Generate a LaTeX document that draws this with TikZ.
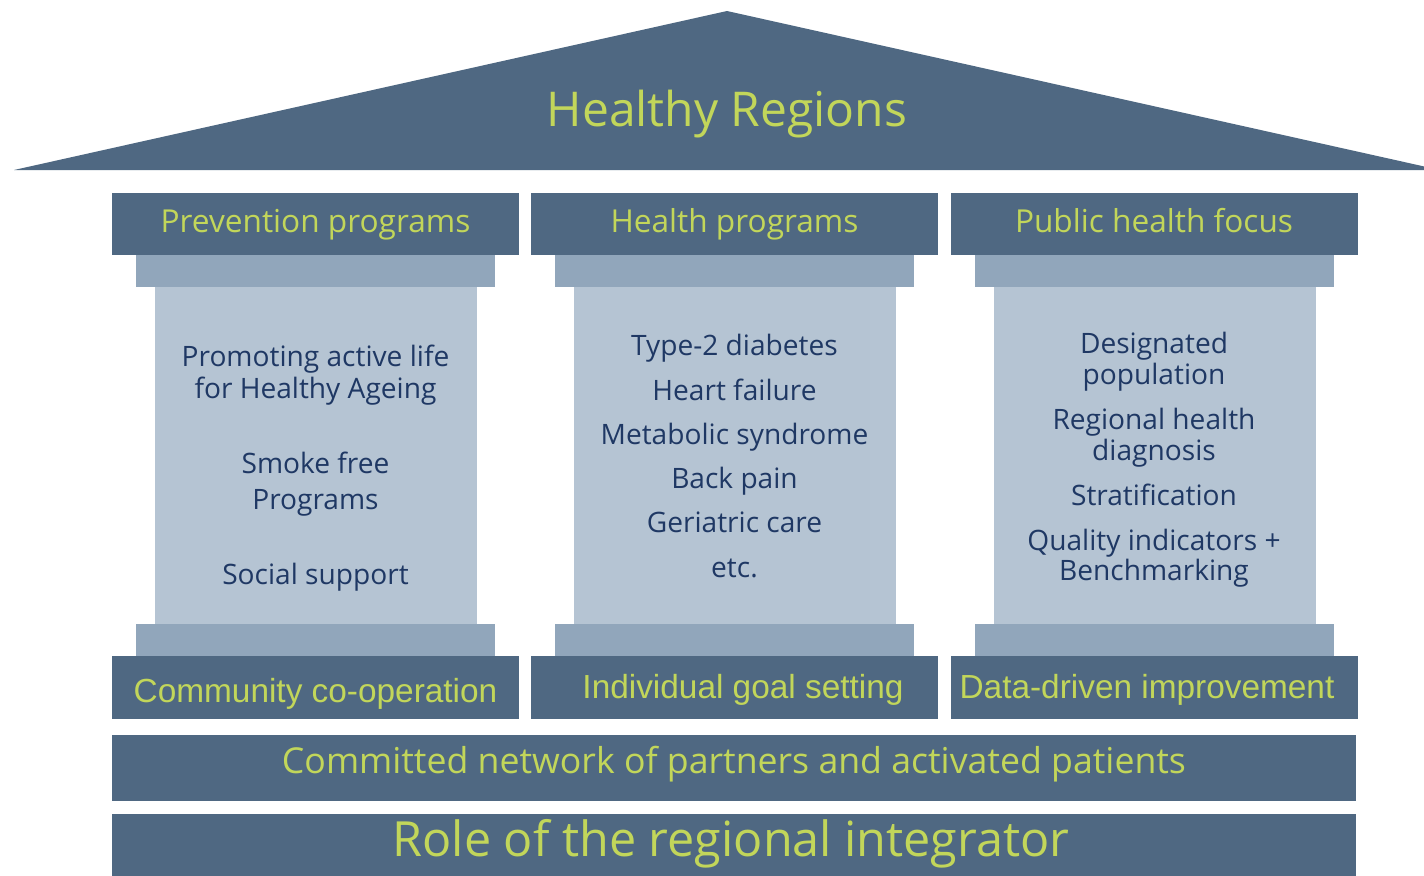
\documentclass[tikz,border=0pt]{standalone}
\usepackage{fontspec}
\setmainfont{Open Sans}
\newfontfamily\arialish{Liberation Sans}
\definecolor{slate}{HTML}{4F6882}
\definecolor{capblue}{HTML}{91A6BB}
\definecolor{shaftblue}{HTML}{B5C4D3}
\definecolor{lime}{HTML}{C2D65A}
\definecolor{navy}{HTML}{1F3864}
\begin{document}
\begin{tikzpicture}
	[x=0.02cm, y=-0.02cm,
		roof/.style={fill=slate},
		slab/.style={fill=slate},
		capital/.style={fill=capblue},
		shaft/.style={fill=shaftblue},
		title/.style={anchor=base,inner sep=0pt,text=lime,font=\fontsize{27.3}{30}\selectfont},
		head/.style={anchor=base,inner sep=0pt,text=lime,font=\fontsize{18}{21}\selectfont},
		foot/.style={anchor=base,inner sep=0pt,text=lime,font=\arialish\fontsize{19}{22}\selectfont},
		item/.style={anchor=base,inner sep=0pt,text=navy,font=\fontsize{16}{19}\selectfont}]
	\useasboundingbox[fill=white] (0,0) rectangle (1424,876);
	% roof
	\fill[roof] (14,170) -- (727,11) -- (1440,170) -- cycle;
	\node[title] (roofText) at (727,126) {Healthy Regions};
	% the three pillars
	\foreach \dx in {0,419,839}{
		\fill[slab] (112+\dx,193) rectangle (519+\dx,255);
		\fill[capital] (136+\dx,255) rectangle (495+\dx,287);
		\fill[shaft] (155+\dx,287) rectangle (477+\dx,624);
		\fill[capital] (136+\dx,624) rectangle (495+\dx,656);
		\fill[slab] (112+\dx,656) rectangle (519+\dx,719);
	}
	\node[head] (prevHead) at (315.5,232) {Prevention programs};
	\node[head] (healthHead) at (734.5,232) {Health programs};
	\node[head] (publicHead) at (1154,232) {Public health focus};
	\foreach \t/\yb [count=\k] in {Promoting active life/366, for Healthy Ageing/398,
		Smoke free/473, Programs/509, Social support/584}
		\node[item] (prev\k) at (315.5,\yb) {\t};
	\foreach \t/\yb [count=\k] in {Type-2 diabetes/355, Heart failure/400,
		Metabolic syndrome/444, Back pain/488, Geriatric care/532, etc./577}
		\node[item] (health\k) at (734.5,\yb) {\t};
	\foreach \t/\yb [count=\k] in {Designated/353, population/384,
		Regional health/429, diagnosis/460, Stratification/505,
		Quality indicators +/550, Benchmarking/580}
		\node[item] (public\k) at (1154,\yb) {\t};
	\node[foot] (prevFoot) at (315.5,702) {Community co-operation};
	\node[foot] (healthFoot) at (743,698) {Individual goal setting};
	\node[foot] (publicFoot) at (1147,698) {Data-driven improvement};
	% foundation
	\fill[slab] (112,735) rectangle (1356,801);
	\node[title,font=\fontsize{20.3}{23}\selectfont] (network) at (734,773)
		{Committed network of partners and activated patients};
	\fill[slab] (112,814) rectangle (1356,880);
	\node[title,font=\fontsize{27.6}{31}\selectfont] (integrator) at (731,856)
		{Role of the regional integrator};
\end{tikzpicture}
\end{document}
